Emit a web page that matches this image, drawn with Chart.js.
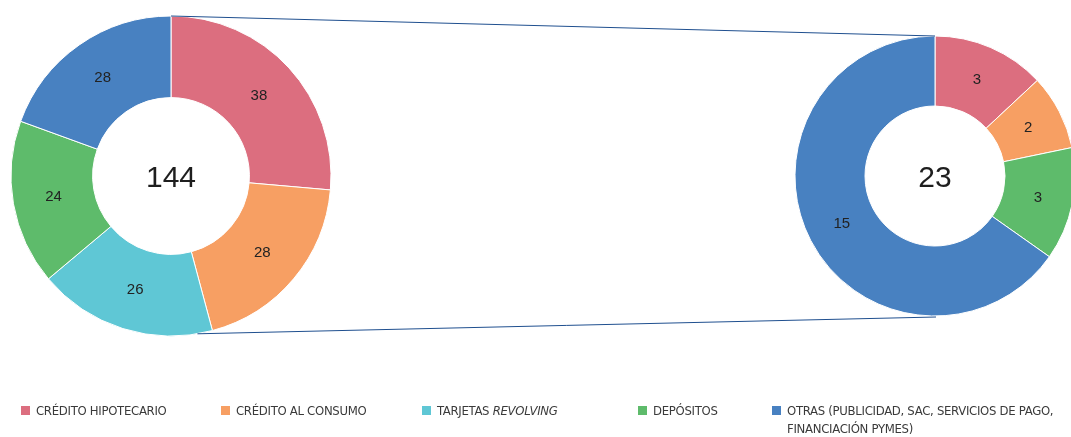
<!DOCTYPE html>
<html>
<head>
<meta charset="utf-8">
<script src="https://cdn.jsdelivr.net/npm/chart.js@4/dist/chart.umd.min.js"></script>
<style>
html,body{margin:0;padding:0;background:#fff;overflow:hidden;width:1071px;height:437px}
#wrap{position:relative;width:1071px;height:437px}
.cv{position:absolute}
#c-left{left:1px;top:6px;width:340px;height:340px}
#c-right{left:785px;top:26px;width:300px;height:300px}
#c-lines{position:absolute;left:0;top:0;pointer-events:none}
#legend{position:absolute;left:0;top:402px;width:1071px;height:35px;font-family:"Liberation Sans Narrow","DejaVu Sans Condensed","Liberation Sans",sans-serif;font-size:13px;letter-spacing:-0.3px;color:#3a3a3a}
.lg{position:absolute;top:0;display:flex;align-items:flex-start;line-height:18px}
.lg i.sw{display:inline-block;width:9px;height:9px;margin:4px 6px 0 0;flex:none}
</style>
</head>
<body>
<div id="wrap">
  <canvas id="c-left" class="cv" width="340" height="340"></canvas>
  <canvas id="c-right" class="cv" width="300" height="300"></canvas>
  <canvas id="c-lines" width="1071" height="437"></canvas>
  <div id="legend"></div>
</div>
<script>
// ---- data ----
const CATS=['CRÉDITO HIPOTECARIO','CRÉDITO AL CONSUMO','TARJETAS <em>REVOLVING</em>','DEPÓSITOS','OTRAS (PUBLICIDAD, SAC, SERVICIOS DE PAGO, FINANCIACIÓN PYMES)'];
const COLORS=['#DC6E7F','#F79F63','#5FC7D5','#5EBB6B','#4881C1'];
const LEFT_VALS=[38,28,26,24,28];
const RIGHT_VALS=[3,2,0,3,15];
const LEFT_TOTAL=144, RIGHT_TOTAL=23;

// layout
const LEGEND_X=[21,221,422,638,772];
const LEGEND_W=[190,190,200,120,299];

const FONT='"Liberation Sans", Arial, sans-serif';

const sliceLabels={
  id:'sliceLabels',
  afterDatasetsDraw(chart){
    const ctx=chart.ctx, meta=chart.getDatasetMeta(0), vals=chart.data.datasets[0].data;
    ctx.save();
    ctx.font='15px '+FONT; ctx.fillStyle='#222'; ctx.textAlign='center'; ctx.textBaseline='middle';
    meta.data.forEach((arc,i)=>{
      if(!vals[i])return;
      const p=arc.getCenterPoint();
      ctx.fillText(vals[i],p.x,p.y);
    });
    // centre total
    const a=meta.data[0];
    ctx.font='30px '+FONT; ctx.fillStyle='#1e1e1e';
    ctx.fillText(chart.options.plugins.sliceLabels.total,a.x,a.y+3);
    ctx.restore();
  }
};

function makeDonut(id,vals,total,rad,cut){
  return new Chart(document.getElementById(id),{
    type:'doughnut',
    data:{labels:CATS,datasets:[{data:vals,backgroundColor:COLORS,borderColor:'#fff',borderWidth:1}]},
    options:{
      responsive:false,animation:false,cutout:cut,radius:rad,
      layout:{padding:0},
      plugins:{legend:{display:false},tooltip:{enabled:false},sliceLabels:{total:total}}
    },
    plugins:[sliceLabels]
  });
}

const chL=makeDonut('c-left',LEFT_VALS,LEFT_TOTAL,160,'49%');
const chR=makeDonut('c-right',RIGHT_VALS,RIGHT_TOTAL,140,'50%');

// connecting lines between the two rings
function drawLines(){
  const cv=document.getElementById('c-lines'), ctx=cv.getContext('2d');
  const pos=(ch)=>{const a=ch.getDatasetMeta(0).data[0];const r=ch.canvas.getBoundingClientRect();return {x:r.left+a.x,y:r.top+a.y,R:a.outerRadius};};
  const L=pos(chL), R=pos(chR);
  ctx.strokeStyle='#1f4f8f'; ctx.lineWidth=1;
  ctx.beginPath();
  ctx.moveTo(L.x,L.y-L.R); ctx.lineTo(R.x,R.y-R.R);
  const ang=80.5*Math.PI/180;
  ctx.moveTo(L.x+L.R*Math.cos(ang),L.y+L.R*Math.sin(ang)); ctx.lineTo(R.x+1,R.y+R.R+1);
  ctx.stroke();
}
drawLines();

// legend
document.getElementById('legend').innerHTML=CATS.map((c,i)=>
  `<div class="lg" style="left:${LEGEND_X[i]}px;width:${LEGEND_W[i]}px"><i class="sw" style="background:${COLORS[i]}"></i><span>${c}</span></div>`
).join('');
</script>
</body>
</html>
